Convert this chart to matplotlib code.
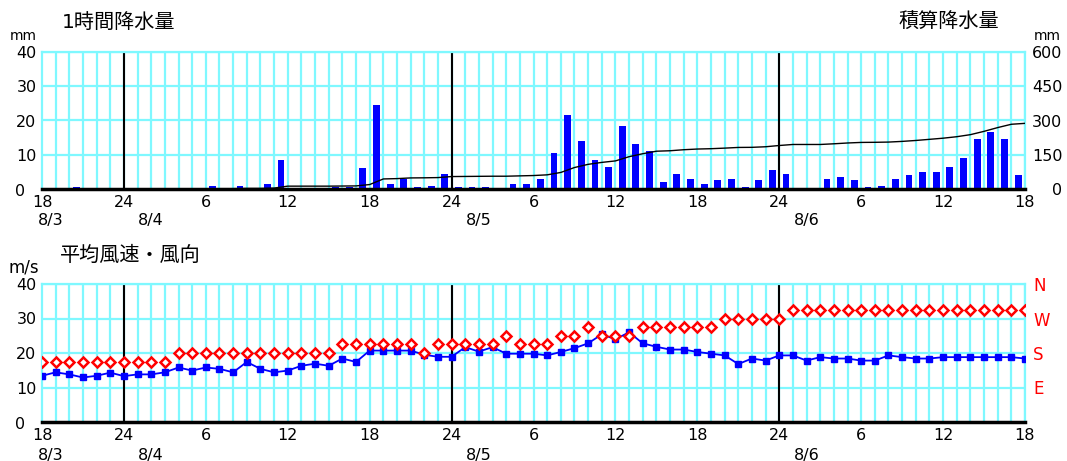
import matplotlib
matplotlib.use('Agg')
import matplotlib.pyplot as plt

plt.rcParams['font.family'] = ['DejaVu Sans', 'Noto Sans CJK JP']

# hourly rain (mm), hour ending 8/3 19:00 ... 8/6 18:00
rain = [0, 0, 0.5, 0, 0, 0, 0, 0, 0, 0, 0, 0,
        1, 0, 1, 0, 1.5, 8.5, 0, 0, 0, 0.5, 0.5, 6,
        24.5, 1.5, 3, 0.5, 1, 4.5, 0.5, 0.5, 0.5, 0, 1.5, 1.5,
        3, 10.5, 21.5, 14, 8.5, 6.5, 18.5, 13, 11, 2, 4.5, 3,
        1.5, 2.5, 3, 0.5, 2.5, 5.5, 4.5, 0, 0, 3, 3.5, 2.5,
        0.5, 1, 3, 4, 5, 5, 6.5, 9, 14.5, 16.5, 14.5, 4]

# wind speed (m/s), 8/3 18:00 ... 8/6 18:00
wind = [13.4, 14.4, 13.8, 12.9, 13.4, 14.3, 13.3, 13.8, 13.8, 14.4, 15.8, 14.9,
        15.8, 15.4, 14.4, 17.4, 15.4, 14.4, 14.9, 16.3, 16.9, 16.3, 18.4, 17.4,
        20.7, 20.7, 20.7, 20.7, 19.5, 18.9, 18.9, 21.7, 20.4, 21.7, 19.8, 19.8,
        19.8, 19.3, 20.3, 21.4, 22.8, 25.4, 24.0, 26.0, 22.8, 21.8, 21.0, 21.0,
        20.3, 19.8, 19.3, 16.8, 18.4, 17.8, 19.3, 19.3, 17.8, 18.8, 18.4, 18.4,
        17.8, 17.8, 19.3, 18.8, 18.4, 18.4, 18.8, 18.8, 18.8, 18.8, 18.8, 18.8, 18.4]

direction = (['SSE'] * 10 + ['S'] * 12 + ['SSW'] * 6 + ['S'] + ['SSW'] * 5 + ['SW']
             + ['SSW'] * 3 + ['SW'] * 2 + ['WSW'] + ['SW'] * 3 + ['WSW'] * 6
             + ['W'] * 5 + ['WNW'] * 18)

compass = {'E': 10, 'ESE': 12.5, 'SE': 15, 'SSE': 17.5, 'S': 20, 'SSW': 22.5,
           'SW': 25, 'WSW': 27.5, 'W': 30, 'WNW': 32.5, 'NW': 35, 'NNW': 37.5, 'N': 40}

hour_labels = ['18', '24', '6', '12', '18', '24', '6', '12', '18', '24', '6', '12', '18']
dates = ['8/3', '8/4', '8/5', '8/6']
date_pos = [0.6, 8, 32, 56]
day_lines = [6, 30, 54]

cum = [0]
for r in rain:
    cum.append(cum[-1] + r)

rain_x = [i + 0.5 for i in range(len(rain))]
cum_x = list(range(len(cum)))
wind_x = list(range(len(wind)))
dir_y = [compass[d] for d in direction]

GRID = '#7ff8ff'
W, H = 1067, 461
fig = plt.figure(figsize=(W / 100, H / 100), dpi=100)


def setup(ax, date_y):
    ax.set_xlim(0, 72)
    ax.set_ylim(0, 40)
    for h in range(1, 73):
        ax.axvline(h, color=GRID, lw=1.6, zorder=0)
    for v in (10, 20, 30, 40):
        ax.axhline(v, color=GRID, lw=1.6, zorder=0)
    for d in day_lines:
        ax.axvline(d, color='black', lw=1.5, zorder=1)
    for s in ('top', 'right', 'left'):
        ax.spines[s].set_color(GRID)
        ax.spines[s].set_linewidth(1.6)
    ax.spines['bottom'].set_color('black')
    ax.spines['bottom'].set_linewidth(2.5)
    ax.set_xticks(range(0, 73, 6))
    ax.set_xticklabels(hour_labels, fontsize=11.5)
    ax.set_yticks([0, 10, 20, 30, 40])
    ax.set_yticklabels(['', '10', '20', '30', '40'])
    ax.tick_params(length=0, labelsize=11.5, pad=4)
    # the zero label sits lower-left of the others
    ax.text(-0.022, -0.02, '0', fontsize=11.5, ha='center', va='center',
            transform=ax.transAxes)
    for x, d in zip(date_pos, dates):
        ax.text(x, date_y, d, fontsize=11.5, ha='center', va='center',
                transform=ax.get_xaxis_transform())


# precipitation
ax1 = fig.add_axes([42 / W, 1 - 189 / H, 983 / W, 137 / H])
setup(ax1, -0.23)
ax1.bar(rain_x, rain, width=0.5, color='#0000ff', zorder=2)
ax1r = ax1.twinx()
ax1r.set_ylim(0, 600)
ax1r.set_yticks([0, 150, 300, 450, 600])
ax1r.set_yticklabels(['0', '150', '300', '450', '600'])
ax1r.tick_params(length=0, labelsize=11.5, pad=27)
for lbl in ax1r.get_yticklabels():
    lbl.set_horizontalalignment('right')
ax1r.plot(cum_x, cum, color='black', lw=1, zorder=3)
for s in ax1r.spines.values():
    s.set_visible(False)

fig.text(62 / W, 1 - 22 / H, '1時間降水量', fontsize=14.5, va='center')
fig.text(10 / W, 1 - 36 / H, 'mm', fontsize=10, va='center')
fig.text(899 / W, 1 - 22 / H, '積算降水量', fontsize=14.5, va='center')
fig.text(1034 / W, 1 - 36 / H, 'mm', fontsize=10, va='center')

# wind
ax2 = fig.add_axes([42 / W, 1 - 422 / H, 983 / W, 138 / H])
setup(ax2, -0.24)
ax2.plot(wind_x, wind, color='#0000ff', lw=1.3, marker='s', markersize=4, zorder=3)
ax2r = ax2.twinx()
ax2r.set_ylim(0, 40)
ax2r.plot(wind_x, dir_y, linestyle='none', marker='D', markersize=5,
          markerfacecolor='white', markeredgecolor='red', markeredgewidth=1.8, zorder=4)
ax2r.set_yticks([10, 20, 30, 40])
ax2r.set_yticklabels(['E', 'S', 'W', 'N'], color='red', fontsize=12)
ax2r.tick_params(length=0, pad=6)
for s in ax2r.spines.values():
    s.set_visible(False)

fig.text(60 / W, 1 - 255 / H, '平均風速・風向', fontsize=14.5, va='center')
fig.text(8 / W, 1 - 268 / H, 'm/s', fontsize=12, va='center')

fig.savefig('out.png', dpi=100)
